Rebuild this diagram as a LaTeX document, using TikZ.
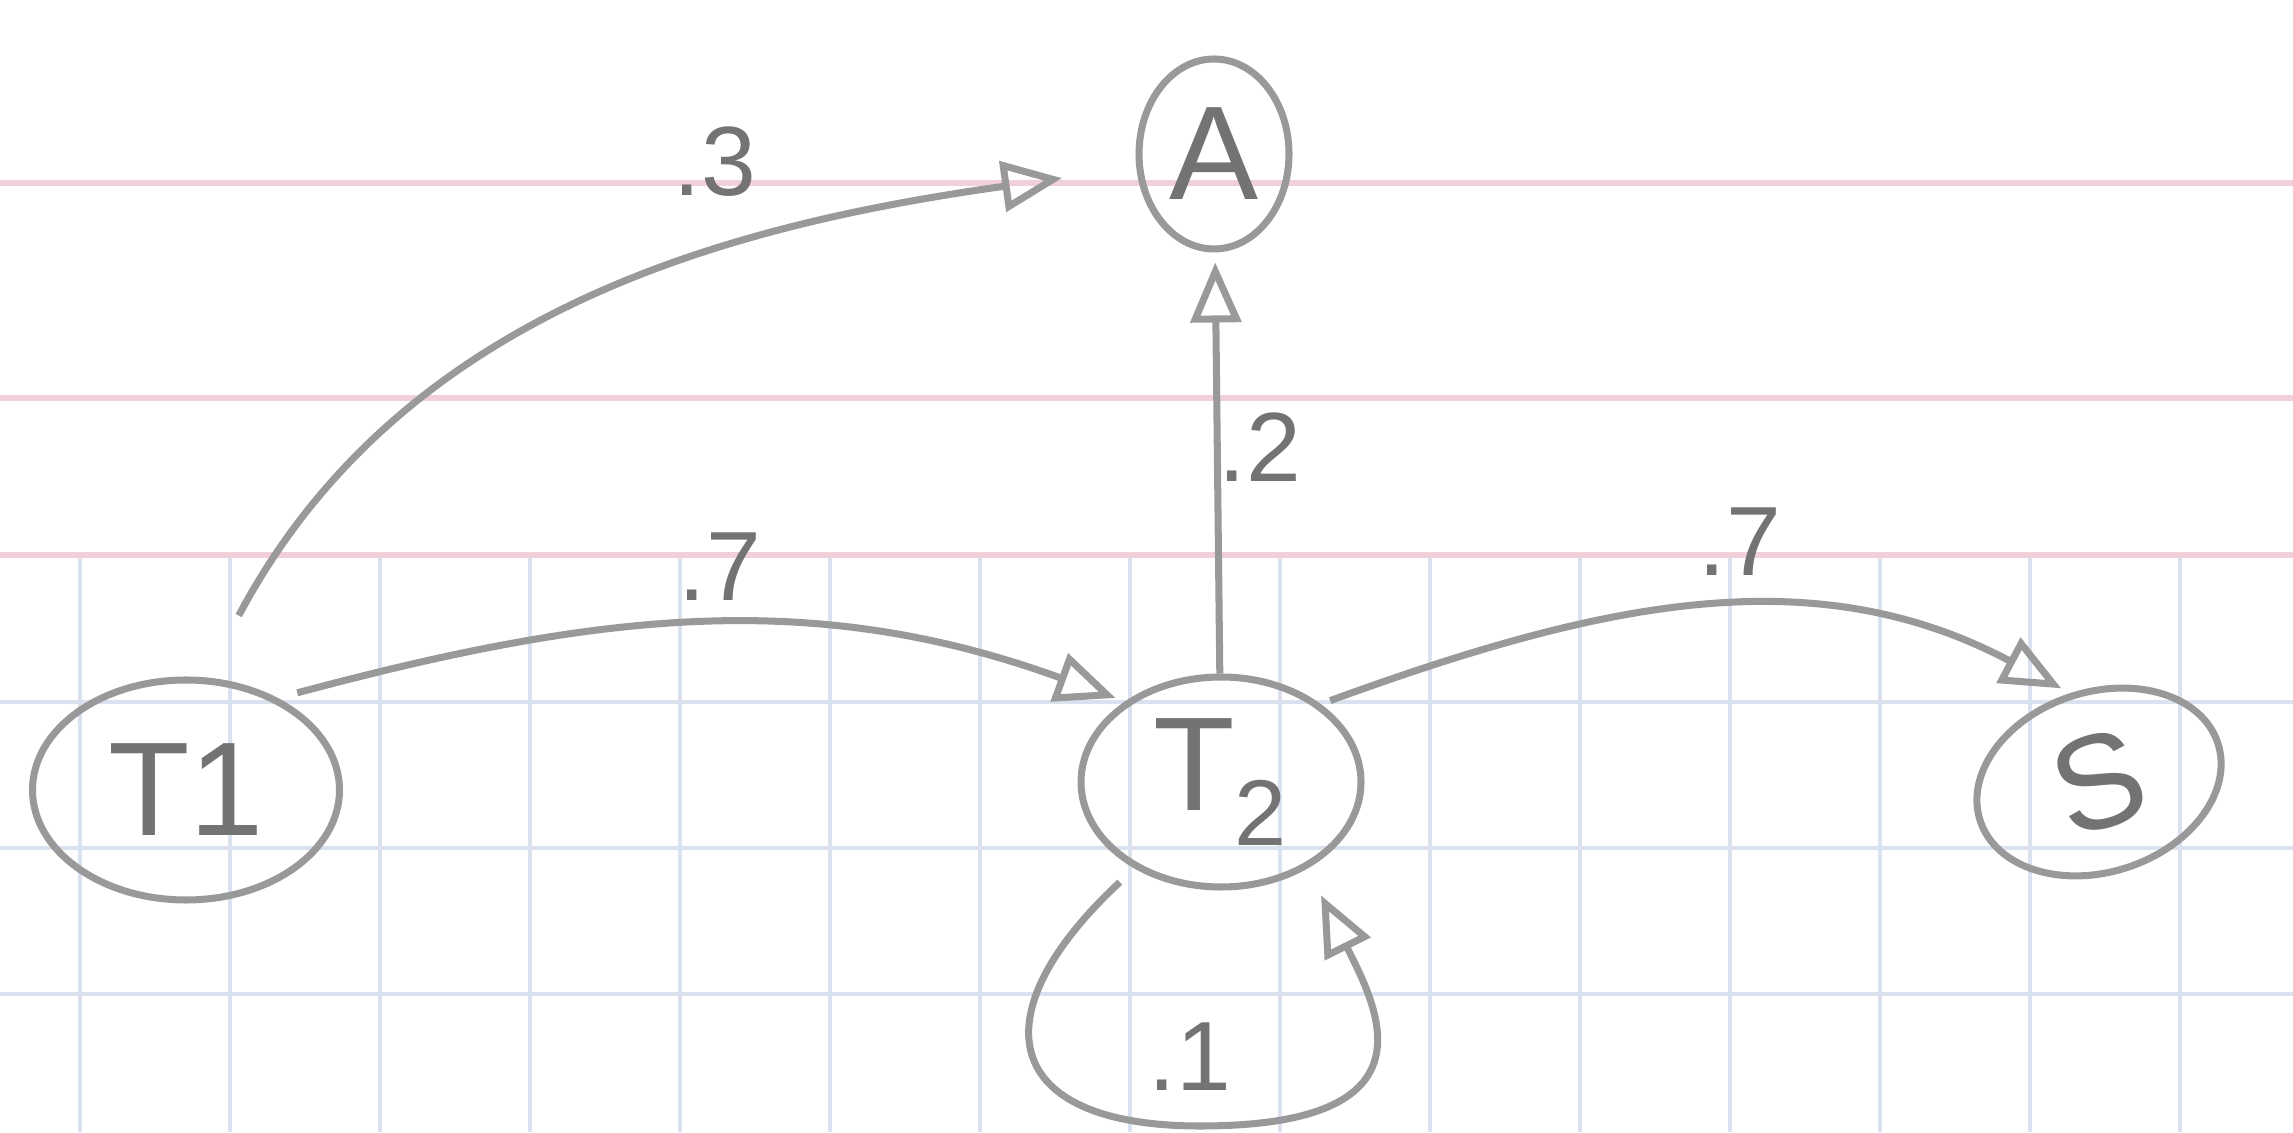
\documentclass[tikz,border=0pt]{standalone}
\usepackage{fontspec}
\setmainfont{Liberation Sans}
\usetikzlibrary{arrows.meta,shapes.geometric}
\definecolor{pencil}{gray}{0.6}
\definecolor{lead}{gray}{0.45}
\definecolor{gridblue}{RGB}{218,226,240}
\definecolor{rulepink}{RGB}{242,208,218}
\begin{document}
\begin{tikzpicture}[
  state/.style={draw=pencil,line width=2pt,ellipse,inner sep=0pt,
    text=lead,font=\fontsize{38}{42}\selectfont},
  prob/.style={text=lead,font=\fontsize{28}{30}\selectfont},
  trans/.style={draw=pencil,line width=2pt,
    -{Triangle[open,length=6mm,width=5mm,line width=2pt]}}
]
\useasboundingbox (0,0) rectangle (22.93,11.32);

% ---- paper ----
\foreach \x in {0.8,2.3,...,22.3}
  \draw[gridblue,line width=1pt] (\x,0) -- (\x,5.77);
\foreach \y in {1.38,2.84,4.30}
  \draw[gridblue,line width=1pt] (0,\y) -- (22.93,\y);
\foreach \y in {5.77,7.34,9.49}
  \draw[rulepink,line width=1.5pt] (0,\y) -- (22.93,\y);

% ---- states ----
\coordinate (cT1) at (1.86,3.42);  % T1, transient
\coordinate (cT2) at (12.21,3.5);  % T2, transient
\coordinate (cS) at (20.99,3.5);   % S, absorbing
\coordinate (cA) at (12.14,9.78);  % A, absorbing
\coordinate (loopbot) at (12.0,0.06); % bottom of the self-loop

\node[state,minimum width=3.07cm,minimum height=2.2cm] (T1) at (cT1) {T1};
\node[state,minimum width=2.8cm,minimum height=2.1cm] (T2) at (cT2) {T\textsubscript{2}};
\node[state,minimum width=2.5cm,minimum height=1.8cm,rotate=18] (S) at (cS) {S};
\node[state,minimum width=1.5cm,minimum height=1.9cm] (A) at (cA) {A};

% ---- transitions ----
\draw[trans,shorten <=7mm,shorten >=7.5mm] (T1.80) to[out=62,in=188] (A.190);
\draw[trans,shorten <=2mm,shorten >=1mm] (T1.45) to[out=15,in=160] (T2.140);
\draw[trans,shorten >=1mm] (T2) -- (A);
\draw[trans,shorten <=1mm,shorten >=1mm] (T2.38) to[out=20,in=152] (S.north);
\draw[trans,shorten <=2mm,shorten >=3mm] (T2.-135)
  .. controls +(-1.57,-1.46) and +(-2.0,0) .. (loopbot)
  .. controls +(2.4,0) and +(0.7,-1.4) .. (T2.-45);

% ---- probabilities ----
\node[prob] (p3) at (7.15,9.7) {.3};
\node[prob] (p7a) at (7.2,5.65) {.7};
\node[prob] (p2) at (12.6,6.85) {.2};
\node[prob] (p7b) at (17.4,5.9) {.7};
\node[prob] (p1) at (11.9,0.75) {.1};

\end{tikzpicture}
\end{document}
